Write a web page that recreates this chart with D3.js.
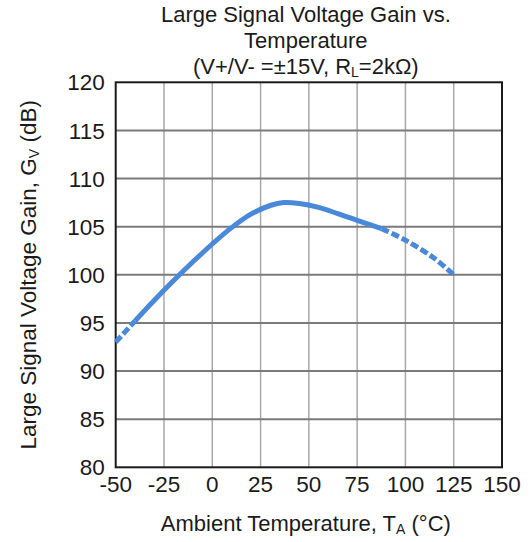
<!DOCTYPE html>
<html><head><meta charset="utf-8">
<script src="https://cdn.jsdelivr.net/npm/d3@7"></script>
<style>
html,body{margin:0;padding:0;background:#fff;}
svg text{font-family:"Liberation Sans",Arial,sans-serif;fill:#1a1a1a;}
</style></head>
<body>
<svg id="c" width="532" height="542"></svg>
<script>
const temps = [-50, -40, -30, -20, -10, 0, 10, 20, 30, 37, 45, 55, 65, 75, 87.7, 100, 114.4, 125];
const gains = [93.0, 95.2, 97.35, 99.4, 101.35, 103.2, 104.9, 106.3, 107.2, 107.5, 107.4, 107.0, 106.35, 105.65, 104.8, 103.6, 101.8, 100.0];
const solidFrom = -40, solidTo = 87.7;
const xTicks = [-50, -25, 0, 25, 50, 75, 100, 125, 150];
const yTicks = [80, 85, 90, 95, 100, 105, 110, 115, 120];
const titleLines = ["Large Signal Voltage Gain vs.", "Temperature"];

const svg = d3.select("#c");
const L = 115.7, R = 502, T = 82.3, B = 467.3;
const x = d3.scaleLinear().domain([-50, 150]).range([L, R]);
const y = d3.scaleLinear().domain([80, 120]).range([B, T]);

// grid
svg.append("g").selectAll("line").data(xTicks.slice(1, -1)).join("line")
  .attr("x1", d => x(d)).attr("x2", d => x(d)).attr("y1", T).attr("y2", B)
  .attr("stroke", "#a8a8a8").attr("stroke-width", 1.5);
svg.append("g").selectAll("line").data(yTicks.slice(1, -1)).join("line")
  .attr("x1", L).attr("x2", R).attr("y1", d => y(d)).attr("y2", d => y(d))
  .attr("stroke", "#7a7a7a").attr("stroke-width", 2);

// frame
svg.append("rect").attr("x", L).attr("y", T).attr("width", R - L).attr("height", B - T)
  .attr("fill", "none").attr("stroke", "#1a1a1a").attr("stroke-width", 2);

// tick labels
svg.append("g").selectAll("text").data(yTicks).join("text")
  .attr("x", L - 11).attr("y", d => y(d)).attr("dy", "0.36em")
  .attr("text-anchor", "end").attr("font-size", 22.5).text(d => d);
svg.append("g").selectAll("text").data(xTicks).join("text")
  .attr("x", d => x(d)).attr("y", 492)
  .attr("text-anchor", "middle").attr("font-size", 22.5).text(d => d);

// curve
const pts = temps.map((t, i) => ({t, g: gains[i]}));
const line = d3.line().x(d => x(d.t)).y(d => y(d.g)).curve(d3.curveCatmullRom.alpha(0.5));
const segs = [
  {d: pts.filter(p => p.t <= solidFrom), dash: "8,3"},
  {d: pts.filter(p => p.t >= solidFrom && p.t <= solidTo), dash: null},
  {d: pts.filter(p => p.t >= solidTo), dash: "8,3"}
];
svg.append("g").selectAll("path").data(segs).join("path")
  .attr("d", s => line(s.d)).attr("fill", "none")
  .attr("stroke", "#4a88d9").attr("stroke-width", 5)
  .attr("stroke-dasharray", s => s.dash);

// title
const cx = (L + R) / 2 - 3;
titleLines.forEach((t, i) => {
  svg.append("text").attr("x", cx).attr("y", 22 + i * 26).attr("text-anchor", "middle")
    .attr("font-size", 22).text(t);
});
const t3 = svg.append("text").attr("x", cx).attr("y", 74).attr("text-anchor", "middle").attr("font-size", 22);
t3.append("tspan").text("(V+/V- =±15V, R");
t3.append("tspan").attr("font-size", 14).attr("dy", 3).text("L");
t3.append("tspan").attr("dy", -3).text("=2kΩ)");

// x title
const xt = svg.append("text").attr("x", cx).attr("y", 531).attr("text-anchor", "middle").attr("font-size", 22);
xt.append("tspan").text("Ambient Temperature, T");
xt.append("tspan").attr("font-size", 14).attr("dy", 3).text("A");
xt.append("tspan").attr("dy", -3).text(" (°C)");

// y title
const yt = svg.append("text").attr("transform", `translate(36,${(T + B) / 2}) rotate(-90)`)
  .attr("text-anchor", "middle").attr("font-size", 22.5);
yt.append("tspan").text("Large Signal Voltage Gain, G");
yt.append("tspan").attr("font-size", 14).attr("dy", 3).text("V");
yt.append("tspan").attr("dy", -3).text(" (dB)");
</script>
</body></html>
